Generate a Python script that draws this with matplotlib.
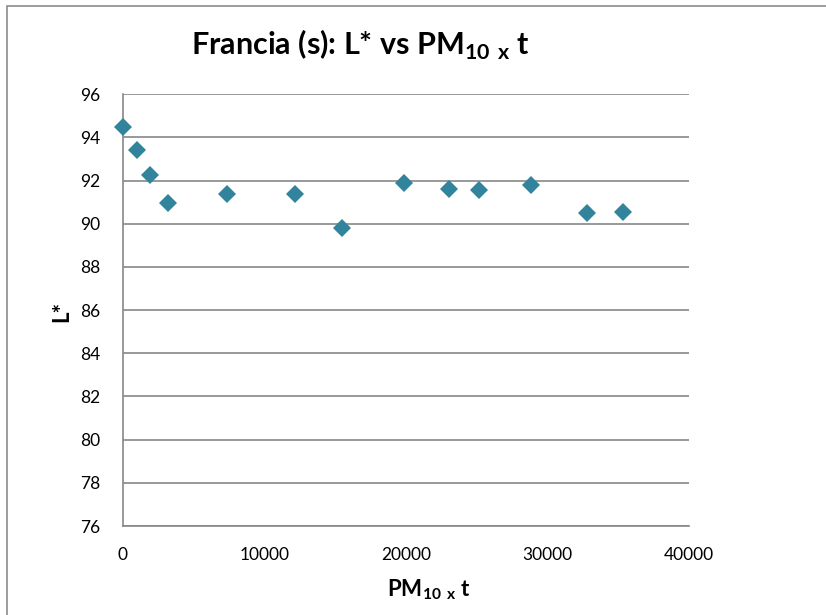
import matplotlib.pyplot as plt
from matplotlib.patches import Rectangle

# 字体设置 (Calibri 的替代)
plt.rcParams['font.family'] = ['Lato', 'DejaVu Sans']
plt.rcParams['mathtext.fontset'] = 'custom'
plt.rcParams['mathtext.rm'] = 'Lato'
plt.rcParams['mathtext.bf'] = 'Lato:bold'

# 数据
pm10_t = [40, 990, 1930, 3180, 7350, 12200, 15500, 19880, 23080, 25160, 28830, 32830, 35360]
l_star = [94.47, 93.41, 92.28, 90.96, 91.36, 91.38, 89.8, 91.89, 91.61, 91.58, 91.81, 90.48, 90.53]
x_ticks = [0, 10000, 20000, 30000, 40000]
y_ticks = list(range(76, 97, 2))

fig = plt.figure(figsize=(8.26, 6.15), dpi=100)
ax = fig.add_axes([0.1486, 0.1447, 0.6852, 0.702])

# 外框
fig.patches.append(Rectangle((6.5 / 826, -0.1), 1.2, (615 - 6) / 615 + 0.1,
                             transform=fig.transFigure, fill=False,
                             edgecolor='#8c8c8c', linewidth=1.2))

ax.plot(pm10_t, l_star, linestyle='none', marker='D', markersize=8.7,
        color='#31849B', markeredgewidth=0, clip_on=False, zorder=3)

ax.set_xlim(0, 40000)
ax.set_ylim(76, 96)
ax.set_xticks(x_ticks)
ax.set_yticks(y_ticks)
ax.tick_params(length=0, labelsize=12.5)
ax.tick_params(axis='x', pad=15)
ax.tick_params(axis='y', pad=16)

ax.grid(axis='y', color='#878787', linewidth=1.2)
ax.set_axisbelow(True)
for s in ['top', 'right']:
    ax.spines[s].set_visible(False)
for s in ['left', 'bottom']:
    ax.spines[s].set_color('#878787')
    ax.spines[s].set_linewidth(1.2)

ax.set_title(r"Francia (s): L* vs PM$_{\mathbf{10}}$ $_{\mathbf{x}}$ t",
             fontsize=22, fontweight='bold', pad=28, x=0.42)
ax.set_xlabel(r"PM$_{\mathbf{10}}$ $_{\mathbf{x}}$ t", fontsize=16,
              fontweight='bold', va='center')
ax.xaxis.set_label_coords(0.541, -0.148)
ax.set_ylabel("L*", fontsize=16, fontweight='bold', va='center')
ax.yaxis.set_label_coords(-0.107, 0.498)

plt.savefig("out.png", dpi=100)
